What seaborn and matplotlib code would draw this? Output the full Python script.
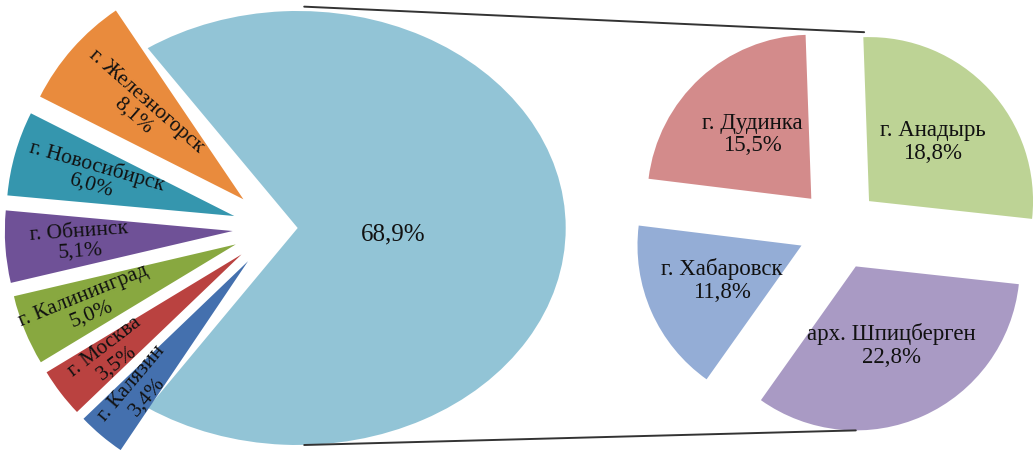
import numpy as np
import matplotlib
matplotlib.use("Agg")
import matplotlib.pyplot as plt
import seaborn as sns
from matplotlib.patches import ConnectionPatch
from matplotlib.transforms import Affine2D

sns.set_theme(style="white")
plt.rcParams['font.family'] = ['Liberation Serif', 'DejaVu Serif']

# main pie: the big slice is broken out into the second pie
main_labels = ['', 'г. Железногорск', 'г. Новосибирск', 'г. Обнинск',
               'г. Калининград', 'г. Москва', 'г. Калязин']
main_values = [68.9, 8.1, 6.0, 5.1, 5.0, 3.5, 3.4]
main_colors = ['#92C4D6', '#E98B3D', '#3596AE', '#6F5197',
               '#88A840', '#BA4240', '#4470AE']

# second pie (parts of 68,9%)
sub_labels = ['г. Анадырь', 'арх. Шпицберген', 'г. Хабаровск', 'г. Дудинка']
sub_values = [18.8, 22.8, 11.8, 15.5]
sub_colors = ['#BDD395', '#A99AC4', '#94ADD6', '#D38B8B']

W, H = 1034, 462
fig = plt.figure(figsize=(W / 100, H / 100), dpi=100)

def fmt(v):
    return f'{v:.1f}%'.replace('.', ',')

# ---- left pie
axl = fig.add_axes([0, 0, 1, 1])
cx, cy, s = 276, 228, 217
explode = [0.1] + [0.2] * 6
wl, _ = axl.pie(main_values, colors=main_colors, startangle=-124,
                counterclock=True, explode=explode, radius=1,
                wedgeprops=dict(linewidth=0))
axl.set_aspect('auto')
axl.set_xlim(-cx / s, (W - cx) / s)
axl.set_ylim(-(H - cy) / s, cy / s)
axl.axis('off')

for w in wl[1:]:
    w.set_radius(1.05)

# the big slice is wider than tall in the source picture
big = wl[0]
bx, by = big.center
stretch = 1.235
big.set_transform(Affine2D().translate(-bx, -by).scale(stretch, 1)
                  .translate(bx, by) + axl.transData)

for w, lab, v in zip(wl[1:], main_labels[1:], main_values[1:]):
    thd = (w.theta1 + w.theta2) / 2
    th = np.deg2rad(thd)
    x0, y0 = w.center
    r = 0.70 - 0.1 * np.sin(th)  # lower labels sit a bit further out
    axl.text(x0 + r * np.cos(th), y0 + r * np.sin(th), f'{lab}\n{fmt(v)}',
             ha='center', va='center', rotation=thd - 180,
             rotation_mode='anchor', fontsize=15.5, linespacing=1.05,
             color='#111111')

axl.text(bx + 0.44, by - 0.03, fmt(main_values[0]),
         ha='center', va='center', fontsize=18, color='#111111')

# ---- right pie
axr = fig.add_axes([0, 0, 1, 1])
rx, ry, rs = 839, 229, 164
wr, _ = axr.pie(sub_values, colors=sub_colors, startangle=92,
                counterclock=False, explode=[0.25] * 4, radius=1,
                wedgeprops=dict(linewidth=0))
axr.set_aspect('auto')
axr.set_xlim(-rx / rs, (W - rx) / rs)
axr.set_ylim(-(H - ry) / rs, ry / rs)
axr.axis('off')

for w, lab, v in zip(wr, sub_labels, sub_values):
    th = np.deg2rad((w.theta1 + w.theta2) / 2)
    x0, y0 = w.center
    r = 0.53
    axr.text(x0 + r * np.cos(th), y0 + r * np.sin(th), f'{lab}\n{fmt(v)}',
             ha='center', va='center', fontsize=16.5, linespacing=1.1,
             color='#111111')

# connector lines from big slice to second pie
anadyr, shpits = wr[0], wr[1]
lines = [((bx + 0.03, by + 1.02), (anadyr.center[0] - 0.03, anadyr.center[1] + 1.03)),
         ((bx + 0.03, by - 1), (shpits.center[0], shpits.center[1] - 1.0))]
for pa, pb in lines:
    con = ConnectionPatch(xyA=pa, coordsA=axl.transData,
                          xyB=pb, coordsB=axr.transData,
                          color='#333333', linewidth=1.4)
    fig.add_artist(con)

fig.savefig('out.png', dpi=100, facecolor='white')
